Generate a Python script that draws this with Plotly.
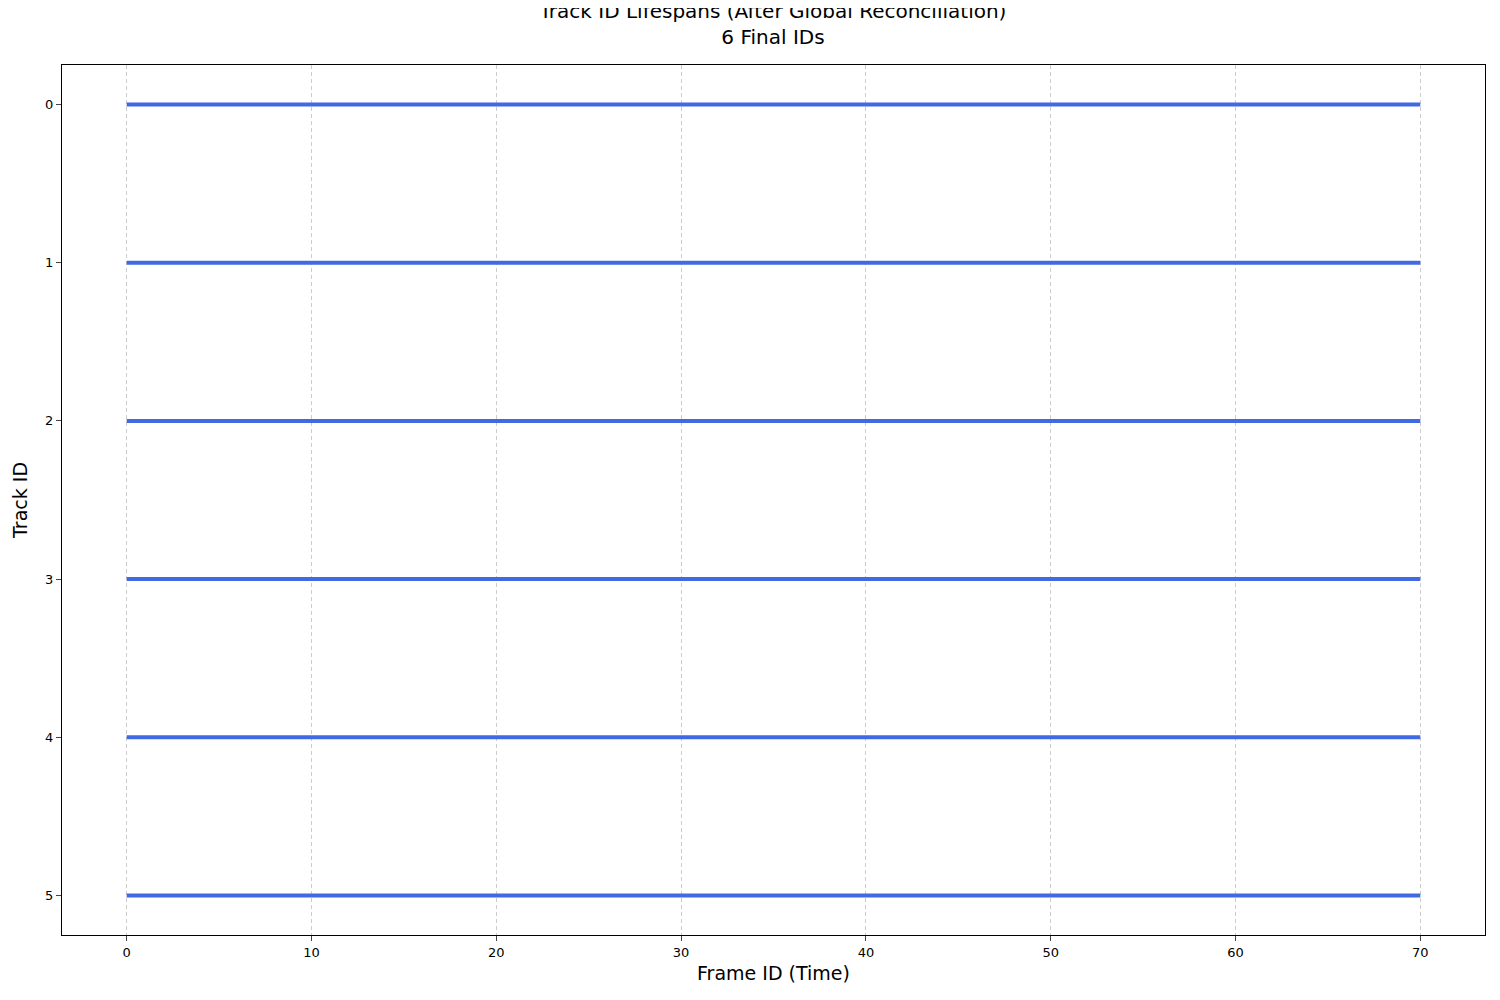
import plotly.graph_objects as go

track_ids = [0, 1, 2, 3, 4, 5]
start_frames = [0, 0, 0, 0, 0, 0]
end_frames = [70, 70, 70, 70, 70, 70]
x_ticks = [0, 10, 20, 30, 40, 50, 60, 70]

fig = go.Figure()
for tid, s, e in zip(track_ids, start_frames, end_frames):
    fig.add_trace(go.Scatter(x=[s, e], y=[tid, tid], mode="lines",
                             line=dict(color="#4169E1", width=4), showlegend=False))

fig.update_layout(
    width=1500, height=1000,
    margin=dict(l=52, r=23, t=57, b=73),
    paper_bgcolor="white", plot_bgcolor="white",
    font=dict(family="DejaVu Sans", color="black"),
    title=dict(text="Track ID Lifespans (After Global Reconciliation)<br>6 Final IDs",
               x=0.51, xanchor="center", y=0.99, yanchor="top", font=dict(size=20)),
    xaxis=dict(range=[-3.5, 73.5], tickvals=x_ticks, showgrid=True, gridcolor="#cccccc",
               griddash="4px,3px", gridwidth=1, zeroline=False, showline=True, linecolor="black",
               mirror=True, ticks="outside", ticklen=5, tickfont=dict(size=13),
               title=dict(text="Frame ID (Time)", font=dict(size=19), standoff=8)),
    yaxis=dict(range=[5.25, -0.25], tickvals=track_ids, showgrid=False, zeroline=False,
               showline=True, linecolor="black", mirror=True, ticks="outside", ticklen=5,
               tickfont=dict(size=13),
               title=dict(text="Track ID", font=dict(size=19), standoff=12)),
)
fig.write_html("out.html")
